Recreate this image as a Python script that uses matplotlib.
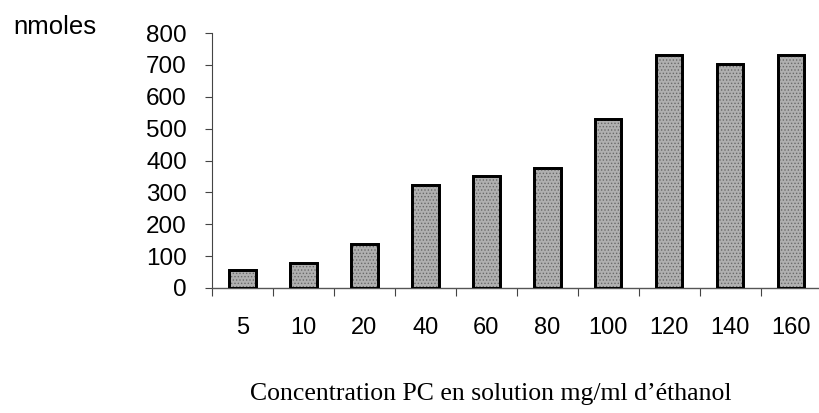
import numpy as np
from matplotlib import pyplot

#: Concentrations (mg/ml d'ethanol), one bar each
concentrations = ['5', '10', '20', '40', '60', '80', '100', '120', '140', '160']

#: Amount measured for each concentration, in nmoles
nmoles = [56, 77, 138, 323, 352, 375, 530, 730, 703, 731]

y_ticks = [0, 100, 200, 300, 400, 500, 600, 700, 800]

SIZE = (8.2, 4.13)
DPI = 100

SANS = 'Liberation Sans'
SERIF = 'Liberation Serif'

pyplot.rcParams['hatch.linewidth'] = 0.6

fig = pyplot.figure(figsize=SIZE, dpi=DPI)
axes = fig.add_axes([0.2585, 0.3027, 0.7415, 0.6173])

x = np.arange(len(concentrations))

# grey stippled bars with a heavy black outline
axes.bar(x, nmoles, width=0.43, color='#b0b0b0', edgecolor='black',
         linewidth=2.0, zorder=2)
axes.bar(x, nmoles, width=0.43, fill=False, edgecolor='#6a6a6a',
         hatch='.....', linewidth=0, zorder=3)
axes.bar(x, nmoles, width=0.43, fill=False, edgecolor='black',
         linewidth=2.0, zorder=4)

axes.set_xlim(-0.5, 9.47)
axes.set_ylim(0, 800)

for side in ('top', 'right'):
    axes.spines[side].set_visible(False)
axes.spines['left'].set_color('#444444')
axes.spines['left'].set_linewidth(0.8)
axes.spines['bottom'].set_color('#555555')
axes.spines['bottom'].set_linewidth(1.0)

axes.set_yticks(y_ticks)
axes.set_yticklabels([str(v) for v in y_ticks], family=SANS, fontsize=17.5)
axes.tick_params(axis='y', direction='out', length=5, width=0.8,
                 color='#444444', pad=13)

# labels sit under the bars, tick marks fall between them
axes.set_xticks(x)
axes.set_xticklabels(concentrations, family=SANS, fontsize=17)
axes.tick_params(axis='x', which='major', length=0, pad=21)
axes.set_xticks(np.arange(len(concentrations)) - 0.5, minor=True)
axes.tick_params(axis='x', which='minor', direction='out', length=6,
                 width=0.8, color='#444444')

fig.text(0.016, 0.935, 'nmoles', family=SANS, fontsize=18.5,
         ha='left', va='center')
fig.text(0.598, 0.045, 'Concentration PC en solution mg/ml d\u2019\u00e9thanol',
         family=SERIF, fontsize=18.5, ha='center', va='center')

pyplot.savefig('out.png', dpi=DPI)
